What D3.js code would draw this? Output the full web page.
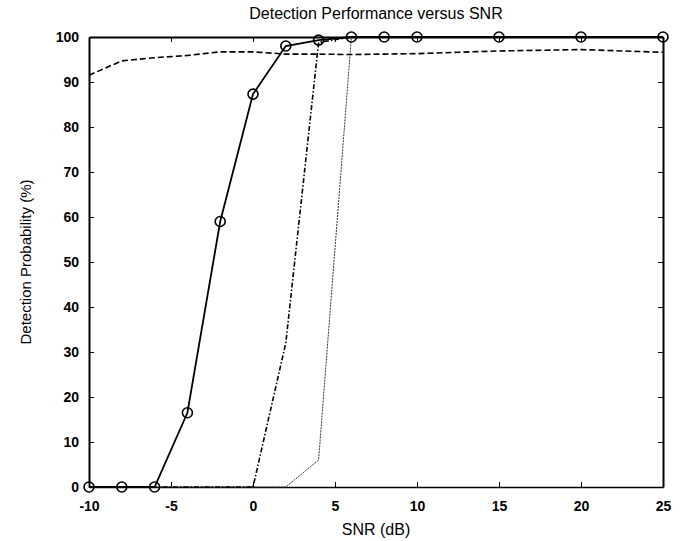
<!DOCTYPE html>
<html>
<head>
  <meta charset="utf-8">
  <title>Detection Performance versus SNR</title>
  <script src="https://cdn.jsdelivr.net/npm/d3@7"></script>
  <style>
    body { margin: 0; background: #ffffff; }
    .tick text { font-family: "Liberation Sans", Arial, sans-serif; font-size: 14px; font-weight: bold; fill: #000; }
    .axis path, .axis line { stroke: #000; }
    .label { font-family: "Liberation Sans", Arial, sans-serif; fill: #000; }
  </style>
</head>
<body>
  <svg id="mainsvg" width="682" height="541"></svg>
  <script>
    // values
    const snrValues = [-10, -8, -6, -4, -2, 0, 2, 4, 6, 8, 10, 15, 20, 25];
    const circleSeries = [0, 0, 0, 16.5, 59, 87.3, 98, 99.3, 100, 100, 100, 100, 100, 100];
    const dashedSeries = [91.5, 94.7, 95.4, 95.9, 96.7, 96.7, 96.2, 96.2, 96.1, 96.2, 96.3, 96.9, 97.2, 96.6];
    const dashDotSeries = [0, 0, 0, 0, 0, 0, 32, 98.8, 100, 100, 100, 100, 100, 100];
    const dottedSeries = [0, 0, 0, 0, 0, 0, 0, 6, 100, 100, 100, 100, 100, 100];
    const xTicks = [-10, -5, 0, 5, 10, 15, 20, 25];
    const yTicks = [0, 10, 20, 30, 40, 50, 60, 70, 80, 90, 100];

    const svg = d3.select('#mainsvg');
    const width = +svg.attr('width');
    const height = +svg.attr('height');
    const margin = { top: 37, right: 19, bottom: 54, left: 89 };
    const innerWidth = width - margin.left - margin.right;
    const innerHeight = height - margin.top - margin.bottom;

    const xScale = d3.scaleLinear().domain([-10, 25]).range([0, innerWidth]);
    const yScale = d3.scaleLinear().domain([0, 100]).range([innerHeight, 0]);
    const plain = d => String(d);   // keep hyphen minus like the original

    const g = svg.append('g')
      .attr('transform', `translate(${margin.left}, ${margin.top})`);

    // box with inward ticks on all four sides
    g.append('g').attr('class', 'axis')
      .attr('transform', `translate(0, ${innerHeight})`)
      .call(d3.axisBottom(xScale).tickValues(xTicks).tickFormat(plain).tickSizeInner(-5).tickSizeOuter(0).tickPadding(14))
      .call(a => a.select('.domain').attr('stroke-width', 1.5));
    g.append('g').attr('class', 'axis')
      .call(d3.axisTop(xScale).tickValues(xTicks).tickSizeInner(-5).tickSizeOuter(0))
      .call(a => a.select('.domain').attr('stroke-width', 2))
      .call(a => a.selectAll('text').remove());
    g.append('g').attr('class', 'axis')
      .call(d3.axisLeft(yScale).tickValues(yTicks).tickFormat(plain).tickSizeInner(-5).tickSizeOuter(0).tickPadding(10))
      .call(a => a.select('.domain').attr('stroke-width', 2));
    g.append('g').attr('class', 'axis')
      .attr('transform', `translate(${innerWidth}, 0)`)
      .call(d3.axisRight(yScale).tickValues(yTicks).tickSizeInner(-5).tickSizeOuter(0))
      .call(a => a.select('.domain').attr('stroke-width', 2))
      .call(a => a.selectAll('text').remove());

    const line = d3.line()
      .x(d => xScale(d[0]))
      .y(d => yScale(d[1]));
    const pairs = vals => snrValues.map((x, i) => [x, vals[i]]);

    const series = [
      { vals: dottedSeries, width: 1, dash: '2,1', color: '#333' },
      { vals: dashDotSeries, width: 1.6, dash: '5,2,1.5,2', color: '#000' },
      { vals: dashedSeries, width: 1.6, dash: '6,3', color: '#000' },
      { vals: circleSeries, width: 1.8, dash: null, color: '#000' }
    ];
    series.forEach(s => {
      g.append('path')
        .attr('d', line(pairs(s.vals)))
        .attr('fill', 'none')
        .attr('stroke', s.color)
        .attr('stroke-width', s.width)
        .attr('stroke-dasharray', s.dash);
    });

    g.selectAll('circle.marker')
      .data(pairs(circleSeries))
      .enter()
      .append('circle')
      .attr('class', 'marker')
      .attr('cx', d => xScale(d[0]))
      .attr('cy', d => yScale(d[1]))
      .attr('r', 5)
      .attr('fill', 'none')
      .attr('stroke', '#000')
      .attr('stroke-width', 1.6);

    svg.append('text').attr('class', 'label')
      .attr('x', margin.left + innerWidth / 2)
      .attr('y', 19)
      .attr('text-anchor', 'middle')
      .style('font-size', '16px')
      .text('Detection Performance versus SNR');

    svg.append('text').attr('class', 'label')
      .attr('x', margin.left + innerWidth / 2)
      .attr('y', 535)
      .attr('text-anchor', 'middle')
      .style('font-size', '16px')
      .text('SNR (dB)');

    svg.append('text').attr('class', 'label')
      .attr('transform', `translate(31, ${margin.top + innerHeight / 2}) rotate(-90)`)
      .attr('text-anchor', 'middle')
      .style('font-size', '15px')
      .text('Detection Probability (%)');
  </script>
</body>
</html>
